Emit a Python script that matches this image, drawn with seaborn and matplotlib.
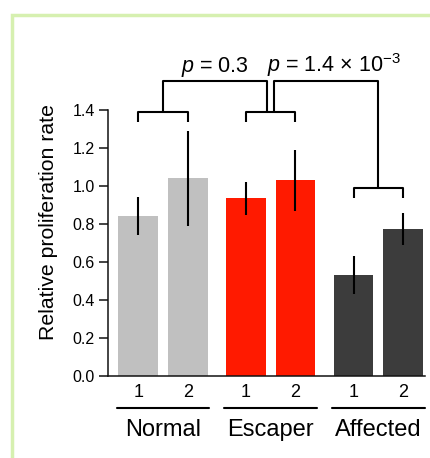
import numpy as np
import pandas as pd
import matplotlib
matplotlib.use("Agg")
import matplotlib.pyplot as plt
import seaborn as sns
from matplotlib.patches import Rectangle

# Data
groups = ["Normal", "Escaper", "Affected"]
replicates = ["1", "2"]
means = [0.84, 1.04, 0.935, 1.03, 0.53, 0.772]
errors = [0.10, 0.25, 0.087, 0.16, 0.10, 0.085]
group_colors = ["#c0c0c0", "#ff1a00", "#3c3c3c"]
p_labels = ["$p$ = 0.3", "$p$ = 1.4 × 10$^{-3}$"]
yticks = [0.0, 0.2, 0.4, 0.6, 0.8, 1.0, 1.2, 1.4]

sns.set_theme(style="ticks")
plt.rcParams["font.family"] = ["Liberation Sans", "DejaVu Sans"]
plt.rcParams["mathtext.fontset"] = "custom"
plt.rcParams["mathtext.rm"] = "Liberation Sans"
plt.rcParams["mathtext.it"] = "Liberation Sans:italic"
plt.rcParams["text.color"] = "black"
plt.rcParams["axes.labelcolor"] = "black"

df = pd.DataFrame({
    "group": np.repeat(groups, len(replicates)),
    "rep": replicates * len(groups),
    "value": means,
})

W, H = 430, 458
fig = plt.figure(figsize=(W / 100, H / 100), dpi=100)
# axes placed in pixel units of the reference
ax = fig.add_axes([108 / W, (H - 376) / H, 317 / W, 323 / H])

sns.barplot(data=df, x="group", y="value", hue="rep", order=groups,
            hue_order=replicates, width=0.92, gap=0.2, errorbar=None,
            legend=False, ax=ax)

# sort bars left to right so they line up with df rows
bars = sorted(ax.patches, key=lambda p: p.get_x())
xc = np.array([b.get_x() + b.get_width() / 2 for b in bars])
for i, b in enumerate(bars):
    b.set_facecolor(group_colors[i // 2])
    b.set_edgecolor("none")

ax.errorbar(xc, df["value"], yerr=errors, fmt="none", ecolor="black",
            elinewidth=1.5, capsize=0, zorder=3)

ax.set_ylim(0, 1.7)
ax.set_xlim(-0.511, 2.433)

# significance brackets
lw = 1.5
kw = dict(color="black", lw=lw, solid_capstyle="butt", clip_on=False)
centers = [(xc[2 * g] + xc[2 * g + 1]) / 2 for g in range(3)]
low_y = [1.39, 1.39, 0.988]
for g in range(3):
    x0, x1 = xc[2 * g], xc[2 * g + 1]
    y = low_y[g]
    ax.plot([x0, x0, x1, x1], [y - 0.053, y, y, y - 0.053], **kw)
top_y = 1.555
off = 0.03
ax.plot([centers[0], centers[0], centers[1] - off, centers[1] - off],
        [low_y[0], top_y, top_y, low_y[1]], **kw)
ax.plot([centers[1] + off, centers[1] + off, centers[2], centers[2]],
        [low_y[1], top_y, top_y, low_y[2]], **kw)
ax.text(0.48, 1.60, p_labels[0], ha="center", va="baseline", fontsize=15.5)
ax.text(1.59, 1.60, p_labels[1], ha="center", va="baseline", fontsize=15.5)

# axes styling
sns.despine(ax=ax)
ax.spines["left"].set_bounds(0, 1.4)
for s in ["left", "bottom"]:
    ax.spines[s].set_linewidth(1.1)
    ax.spines[s].set_color("#111111")
ax.set_yticks(yticks)
ax.set_yticklabels([f"{t:.1f}" for t in yticks])
ax.tick_params(axis="y", length=6.5, width=1.1, pad=3, labelsize=11.5,
               color="#111111", labelcolor="black")
ax.set_xticks(xc)
ax.set_xticklabels(replicates * len(groups))
ax.tick_params(axis="x", length=0, pad=5.5, labelsize=13, labelcolor="black")
ax.set_xlabel("")
ax.set_ylabel("Relative proliferation rate", fontsize=15.3)
ax.yaxis.set_label_coords(-0.158, 0.477)

# group underlines and names
for g, name in enumerate(groups):
    ax.plot([centers[g] - 0.43, centers[g] + 0.43], [-0.171, -0.171],
            color="black", lw=1.5, clip_on=False)
    ax.text(centers[g], -0.316, name, ha="center", va="baseline", fontsize=17)

# light green frame
fig.patches.append(Rectangle((11.5 / W, -0.05), 1.2, 1 - 15 / H + 0.05,
                             transform=fig.transFigure, fill=False,
                             edgecolor="#d6f0b0", lw=2.5))

fig.savefig("out.png", dpi=100)
